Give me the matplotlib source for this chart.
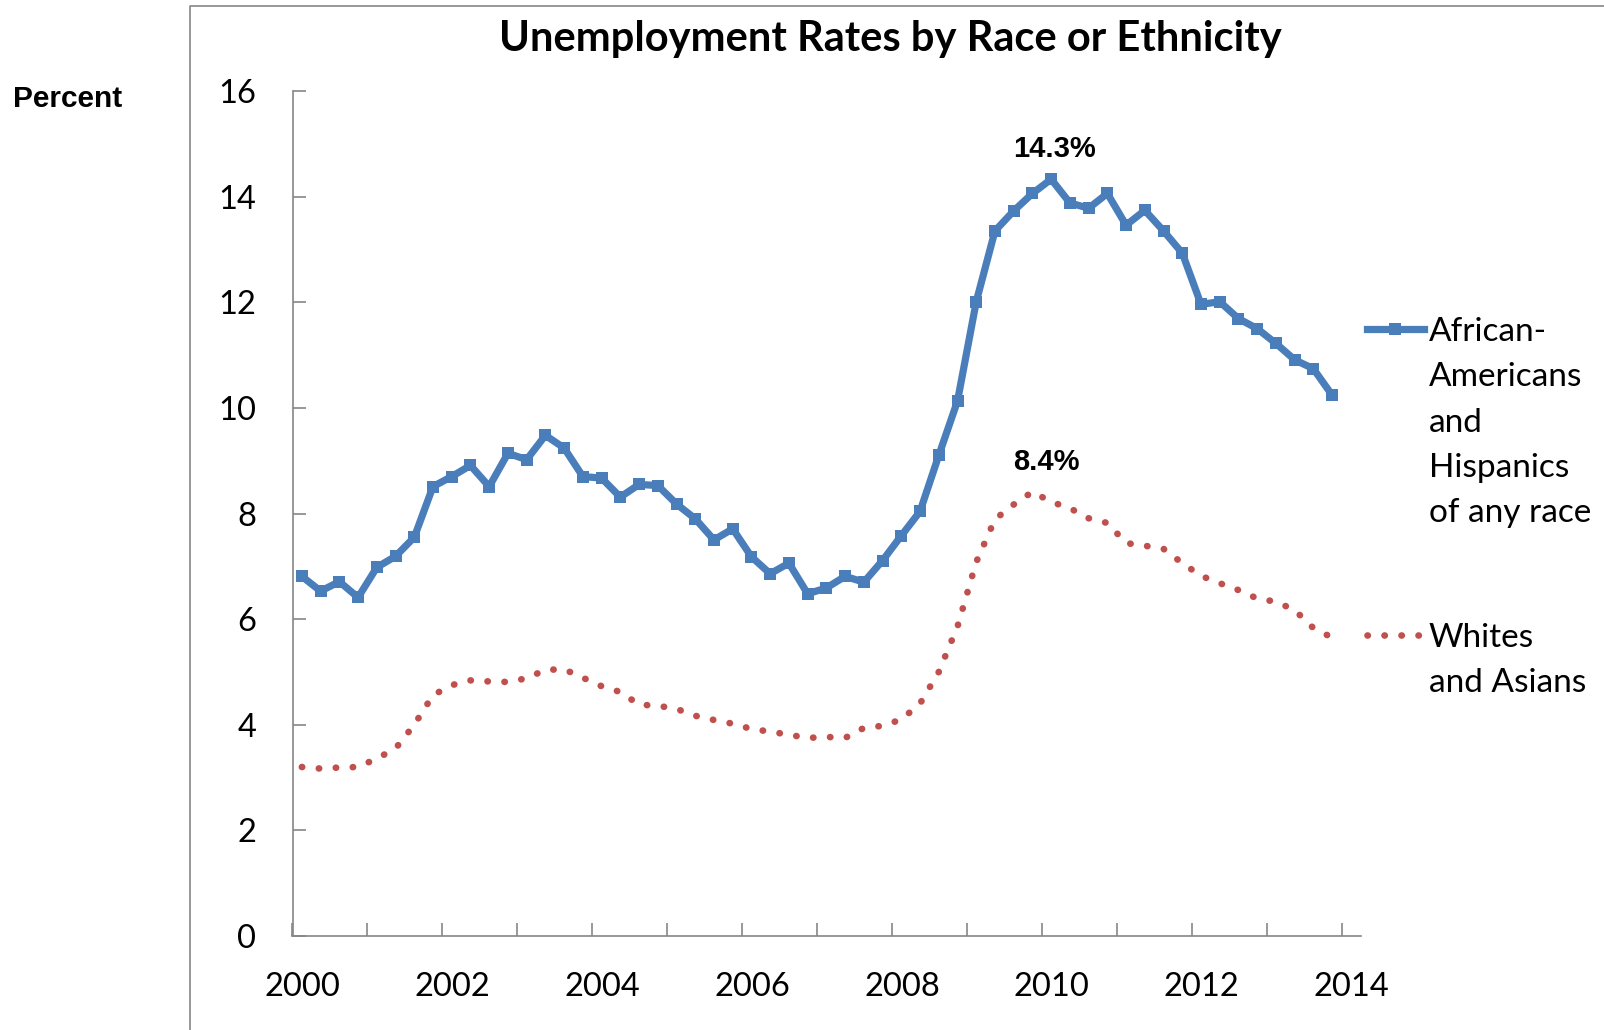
import matplotlib
matplotlib.use('Agg')
import matplotlib.pyplot as plt
import matplotlib.transforms as mtransforms
from matplotlib.lines import Line2D
import numpy as np

plt.rcParams['font.family'] = ['Lato', 'DejaVu Sans']

# ---------------- data ----------------
title = "Unemployment Rates by Race or Ethnicity"
y_label = "Percent"
start_year = 2000
n_quarters = 56  # 2000 Q1 .. 2013 Q4
year_ticks = list(range(2000, 2015))
year_labels = [str(y) if y % 2 == 0 else "" for y in year_ticks]
y_ticks = [0, 2, 4, 6, 8, 10, 12, 14, 16]

series_aa_label = "African-\nAmericans\nand\nHispanics\nof any race"
series_aa = [6.81, 6.53, 6.71, 6.41, 6.98, 7.19, 7.55, 8.51, 8.70, 8.91,
             8.51, 9.14, 9.02, 9.48, 9.24, 8.70, 8.67, 8.31, 8.55, 8.53,
             8.18, 7.90, 7.50, 7.71, 7.18, 6.86, 7.06, 6.48, 6.59, 6.81,
             6.70, 7.11, 7.58, 8.04, 9.10, 10.13, 12.01, 13.35, 13.73, 14.06,
             14.33, 13.88, 13.78, 14.06, 13.46, 13.74, 13.35, 12.93, 11.96, 12.01,
             11.69, 11.50, 11.22, 10.91, 10.74, 10.24]

series_wa_label = "Whites\nand Asians"
series_wa = [3.20, 3.17, 3.19, 3.20, 3.36, 3.55, 4.00, 4.56, 4.75, 4.84,
             4.82, 4.81, 4.88, 5.04, 5.05, 4.89, 4.73, 4.62, 4.38, 4.36,
             4.30, 4.17, 4.09, 4.02, 3.92, 3.87, 3.81, 3.75, 3.77, 3.75,
             3.94, 3.98, 4.10, 4.40, 5.00, 5.86, 7.08, 7.89, 8.17, 8.41,
             8.22, 8.10, 7.91, 7.82, 7.44, 7.39, 7.33, 7.06, 6.82, 6.68,
             6.55, 6.39, 6.33, 6.17, 5.83, 5.65]

# quarter positions (centre of each quarter category)
x = start_year + (np.arange(n_quarters) + 0.5) / 4.0

blue = '#4A7EBB'
red = '#C0504D'
gray = '#868686'

W_PX, H_PX = 1604, 1030
fig = plt.figure(figsize=(W_PX / 100, H_PX / 100), dpi=100)

L = 292.5 / W_PX
R = 1361 / W_PX
B = 1 - 936 / H_PX
T = 1 - 91 / H_PX
ax = fig.add_axes([L, B, R - L, T - B])

dot_style = (0, (0.05, 2.5))
ax.plot(x, series_wa, color=red, lw=4.8, linestyle=dot_style,
        dash_capstyle='round', solid_capstyle='round')
ax.plot(x, series_aa, color=blue, lw=5.2, marker='s', markersize=8.2,
        markeredgewidth=0, solid_joinstyle='round')

ax.set_xlim(2000, 2014.26)
ax.set_ylim(0, 16)
ax.set_yticks(y_ticks)
ax.set_xticks(year_ticks)
ax.set_xticklabels(year_labels)

for s in ['top', 'right']:
    ax.spines[s].set_visible(False)
for s in ['left', 'bottom']:
    ax.spines[s].set_color(gray)
    ax.spines[s].set_linewidth(1.2)

ax.tick_params(axis='both', direction='in', length=9.4, width=1.2, color=gray,
               labelsize=23.5, labelcolor='black')
ax.tick_params(axis='y', pad=26)
ax.tick_params(axis='x', pad=26)

offset = mtransforms.ScaledTranslation(10 / 100, 0, fig.dpi_scale_trans)
for lab in ax.xaxis.get_majorticklabels():
    lab.set_transform(lab.get_transform() + offset)

# peak data labels
lab_font = dict(fontsize=21, fontweight='bold', family=['Liberation Sans', 'DejaVu Sans'])
i_aa = int(np.argmax(series_aa))
ax.annotate(f"{series_aa[i_aa]:.1f}%", xy=(x[i_aa], series_aa[i_aa]),
            xytext=(2.2, 21.5), textcoords='offset points', ha='center', va='center',
            **lab_font)
i_wa = int(np.argmax(series_wa))
ax.annotate(f"{series_wa[i_wa]:.1f}%", xy=(x[i_wa], series_wa[i_wa]),
            xytext=(10, 21.8), textcoords='offset points', ha='center', va='center',
            **lab_font)

# legends
leg_kw = dict(loc='upper left', bbox_transform=fig.transFigure, frameon=False, fontsize=24,
              handlelength=1.7, handletextpad=0.15, labelspacing=0.46, borderpad=0,
              borderaxespad=0, numpoints=1)
aa_lines = series_aa_label.split("\n")
h_aa = [Line2D([], [], color=blue, lw=5.2, marker='s', markersize=8.2, markeredgewidth=0)] + \
       [Line2D([], [], color='none')] * (len(aa_lines) - 1)
leg1 = ax.legend(h_aa, aa_lines, bbox_to_anchor=(1367 / W_PX, 1 - 317 / H_PX), **leg_kw)
ax.add_artist(leg1)
wa_lines = series_wa_label.split("\n")
h_wa = [Line2D([], [], color=red, lw=4.8, linestyle=dot_style, dash_capstyle='round')] + \
       [Line2D([], [], color='none')] * (len(wa_lines) - 1)
leg2 = ax.legend(h_wa, wa_lines, bbox_to_anchor=(1367 / W_PX, 1 - 623 / H_PX), **leg_kw)

# title & axis label
fig.text(890 / W_PX, 1 - 51 / H_PX, title, ha='center', va='baseline',
         fontsize=30, fontweight='bold')
fig.text(13 / W_PX, 1 - 107 / H_PX, y_label, ha='left', va='baseline',
         fontsize=21.5, fontweight='bold', family=['Liberation Sans', 'DejaVu Sans'])

# outer chart frame
fig.add_artist(Line2D([190 / W_PX, 190 / W_PX, 1.0], [0.0, 1 - 6 / H_PX, 1 - 6 / H_PX],
                      transform=fig.transFigure, color=gray, lw=1.2))

fig.savefig('out.png', dpi=100)
